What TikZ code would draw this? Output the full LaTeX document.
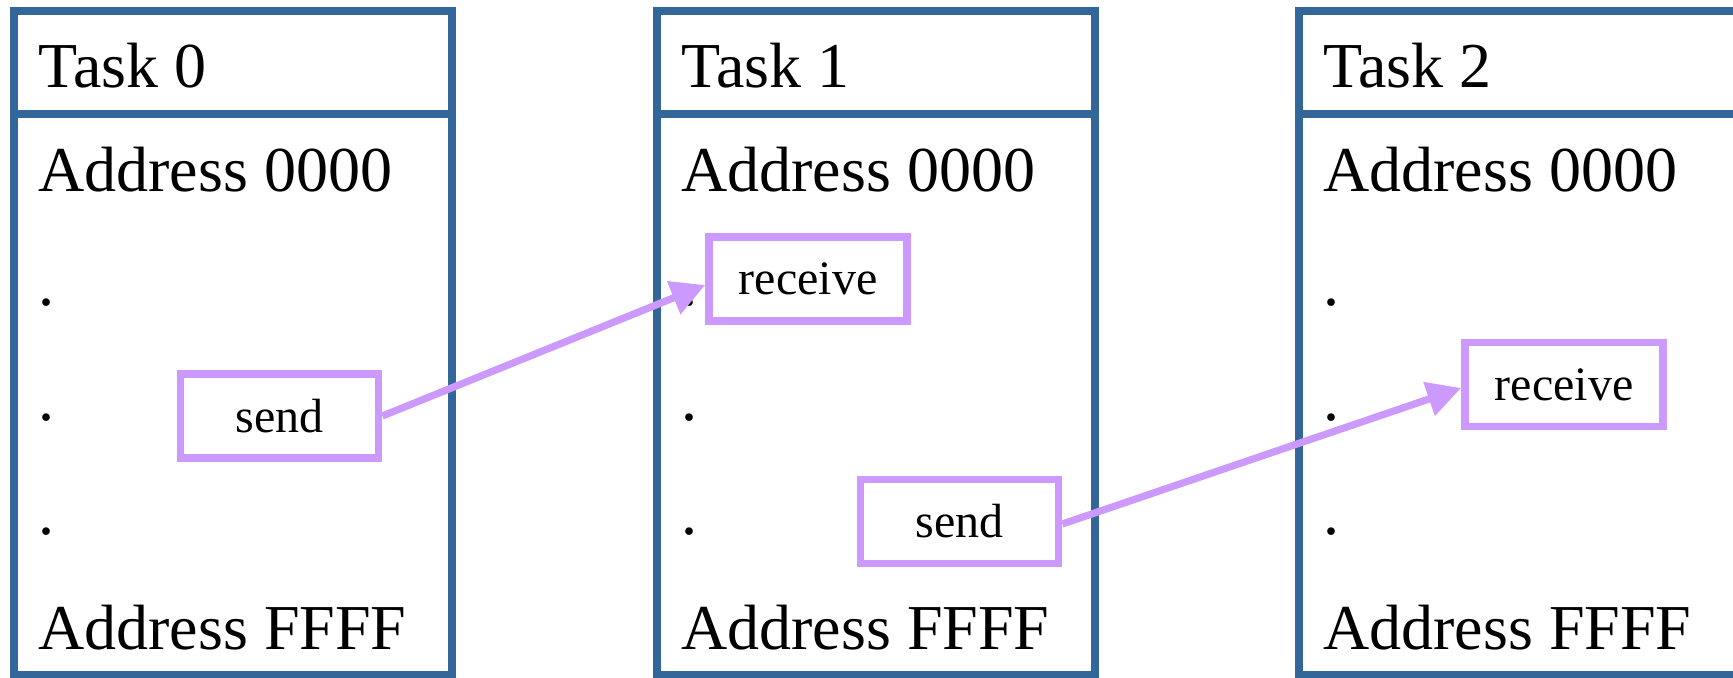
\documentclass[tikz,border=0pt]{standalone}
\usepackage{fontspec}
\setmainfont{Liberation Serif}
\usetikzlibrary{arrows.meta}
\definecolor{taskblue}{RGB}{51,102,153}
\definecolor{msgpurple}{RGB}{204,153,255}
\tikzset{
  taskframe/.style={draw=taskblue, line width=3.7pt, rectangle, inner sep=0pt, minimum width=219pt},
  taskhead/.style={taskframe, minimum height=51.5pt},
  taskbody/.style={taskframe, minimum height=280.5pt},
  memline/.style={anchor=base west, inner sep=0pt, font=\fontsize{32}{38}\selectfont},
  msgbox/.style={draw=msgpurple, line width=3.8pt, rectangle, inner sep=0pt,
    minimum width=99pt, minimum height=42pt, font=\fontsize{24}{29}\selectfont},
  msgarrow/.style={draw=msgpurple, line width=3.6pt, -{Triangle[length=17pt,width=17pt]}}
}
\begin{document}
\begin{tikzpicture}[x=0.5pt, y=-0.5pt]
\useasboundingbox (0,0) rectangle (1733,677);
\clip (0,0) rectangle (1733,677);

% one memory column per task: header, body and address lines
\foreach \n/\x in {0/14, 1/657, 2/1299} {
  \node[taskhead] (head\n) at (\x+219, 62.5) {};
  \node[taskbody] (body\n) at (\x+219, 394.5) {};
  \node[memline] (title\n) at (\x+24, 87) {Task \n};
  \node[memline] (low\n) at (\x+24, 191) {Address 0000};
  \node[memline] (dota\n) at (\x+24, 305.5) {.};
  \node[memline] (dotb\n) at (\x+24, 420) {.};
  \node[memline] (dotc\n) at (\x+24, 534.5) {.};
  \node[memline] (high\n) at (\x+24, 649) {Address FFFF};
}

% message operations
\node[msgbox] (send0) at (279.5, 416) {send};
\node[msgbox] (recv1) at (808, 279) {receive};
\node[msgbox] (send1) at (959.5, 521.5) {send};
\node[msgbox] (recv2) at (1564, 384.5) {receive};

% messages between tasks
\draw[msgarrow] (send0.east) -- ([yshift=-3pt]recv1.west);
\draw[msgarrow] ([yshift=-1.25pt]send1.east) -- ([yshift=-1.75pt]recv2.west);
\end{tikzpicture}
\end{document}
